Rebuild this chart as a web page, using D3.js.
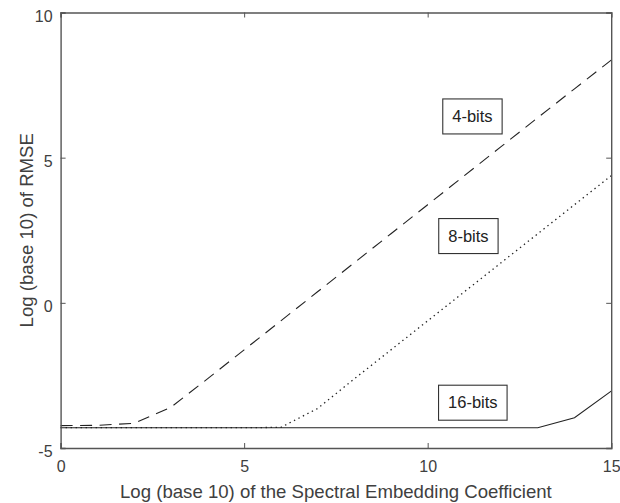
<!DOCTYPE html>
<html>
<head>
<meta charset="utf-8">
<script src="https://cdn.jsdelivr.net/npm/d3@7"></script>
<style>
  html, body { margin: 0; padding: 0; background: #fff; }
  svg text { font-family: "Liberation Sans", Arial, Helvetica, sans-serif; }
</style>
</head>
<body>
<svg id="chart" width="620" height="503"></svg>
<script>
// ---- data ----
const xValues = [0,1,2,3,4,5,6,7,8,9,10,11,12,13,14,15];
const bits4  = [-4.23,-4.22,-4.15,-3.6,-2.62,-1.62,-0.62,0.38,1.38,2.38,3.38,4.38,5.38,6.38,7.37,8.36];
const bits8  = [-4.3,-4.3,-4.3,-4.3,-4.3,-4.3,-4.29,-3.64,-2.62,-1.62,-0.62,0.38,1.38,2.38,3.38,4.38];
const bits16 = [-4.3,-4.3,-4.3,-4.3,-4.3,-4.3,-4.3,-4.3,-4.3,-4.3,-4.3,-4.3,-4.3,-4.3,-3.96,-3.04];
const seriesNames = ["4-bits","8-bits","16-bits"];
const labelX = [11.22, 11.11, 11.23];
const labelY = [6.42, 2.30, -3.44];
const xTicks = [0,5,10,15];
const yTicks = [-5,0,5,10];
const xTitle = "Log (base 10) of the Spectral Embedding Coefficient";
const yTitle = "Log (base 10) of RMSE";

// ---- layout ----
const svg = d3.select("#chart");
const L = 60.6, R = 611.2, T = 12.5, B = 448;
const x = d3.scaleLinear().domain([0,15]).range([L,R]);
const y = d3.scaleLinear().domain([-5,10]).range([B,T]);
const axisColor = "#555";
const textColor = "#404040";
const fmt = d => String(d); // plain hyphen-minus as in the reference

// lines
const seriesData = [bits4, bits8, bits16];
const dashes = ["12,7.5", "1.4,3.6", null];
const line = d3.line().x((d,i)=>x(xValues[i])).y(d=>y(d));
seriesData.forEach((s,k)=>{
  const p = svg.append("path").datum(s)
    .attr("d", line)
    .attr("fill","none")
    .attr("stroke","#222")
    .attr("stroke-width", k===1 ? 1.3 : 1.1);
  if (dashes[k]) p.attr("stroke-dasharray", dashes[k]);
});

// axes (box with inward ticks, mirrored)
const tickLen = 5;
const gB = svg.append("g").attr("transform",`translate(0,${B})`)
  .call(d3.axisBottom(x).tickValues(xTicks).tickSize(-tickLen).tickPadding(13).tickFormat(fmt));
const gT = svg.append("g").attr("transform",`translate(0,${T})`)
  .call(d3.axisTop(x).tickValues(xTicks).tickSize(-tickLen).tickFormat(""));
const gL = svg.append("g").attr("transform",`translate(${L},0)`)
  .call(d3.axisLeft(y).tickValues(yTicks).tickSize(-tickLen).tickPadding(8).tickFormat(fmt));
const gR = svg.append("g").attr("transform",`translate(${R},0)`)
  .call(d3.axisRight(y).tickValues(yTicks).tickSize(-tickLen).tickFormat(""));
[gB,gT,gL,gR].forEach(g=>{
  g.select(".domain").attr("stroke",axisColor).attr("stroke-width",1.4);
  g.selectAll(".tick line").attr("stroke",axisColor).attr("stroke-width",1);
  g.selectAll("text").attr("fill",textColor).style("font-size","16px")
   .attr("font-family","Liberation Sans, Arial, sans-serif");
});
gL.selectAll(".tick text").attr("dy","0.55em");
gB.selectAll(".tick text").attr("dy","0.71em");

// titles
svg.append("text")
  .attr("x",(L+R)/2).attr("y",498)
  .attr("text-anchor","middle")
  .attr("fill",textColor).style("font-size","18.6px")
  .text(xTitle);
svg.append("text")
  .attr("transform",`translate(33,${(T+B)/2}) rotate(-90)`)
  .attr("text-anchor","middle")
  .attr("fill",textColor).style("font-size","18.6px")
  .text(yTitle);

// labels with boxes
seriesNames.forEach((name,k)=>{
  const g = svg.append("g");
  const t = g.append("text")
    .attr("x", x(labelX[k])).attr("y", y(labelY[k]))
    .attr("text-anchor","middle").attr("dy","0.35em")
    .attr("fill","#222").style("font-size","16.5px")
    .text(name);
  const bb = t.node().getBBox();
  g.insert("rect","text")
    .attr("x", bb.x-9.5).attr("y", y(labelY[k])-17.5)
    .attr("width", bb.width+19).attr("height", 35)
    .attr("fill","#fff").attr("stroke","#333").attr("stroke-width",1.1);
});
</script>
</body>
</html>
